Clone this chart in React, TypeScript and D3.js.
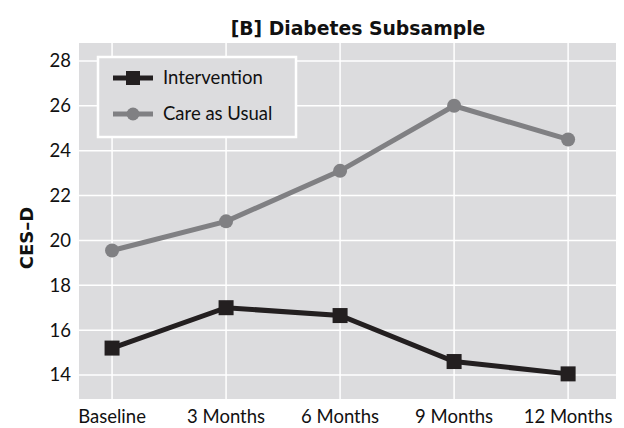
import { useEffect, useRef } from 'react'
import * as d3 from 'd3'

const timepoints = ['Baseline', '3 Months', '6 Months', '9 Months', '12 Months']
const intervention = [15.2, 17.0, 16.65, 14.6, 14.05]
const careAsUsual = [19.55, 20.85, 23.1, 26.0, 24.5]
const yTicks = [14, 16, 18, 20, 22, 24, 26, 28]

const W = 624
const H = 428
const FONT = 'Lato, "Open Sans", sans-serif'
const BOLD_FONT = '"DejaVu Sans", sans-serif'

export default function App() {
  const svgRef = useRef<SVGSVGElement>(null)

  useEffect(() => {
    if (!svgRef.current) return
    const svg = d3.select(svgRef.current)
    svg.selectAll('*').remove()

    const left = 79, right = 616, top = 43, bottom = 399

    const x = d3.scaleLinear().domain([-0.29, 4.42]).range([left, right])
    const y = d3.scaleLinear().domain([12.93, 28.8]).range([bottom, top])

    // plot background
    svg.append('rect')
      .attr('x', left).attr('y', top)
      .attr('width', right - left).attr('height', bottom - top)
      .attr('fill', '#dcdcde')

    // grid
    svg.append('g').selectAll('line')
      .data(yTicks)
      .join('line')
      .attr('x1', left).attr('x2', right)
      .attr('y1', (d) => y(d)).attr('y2', (d) => y(d))
      .attr('stroke', '#fff').attr('stroke-width', 1.5)
    svg.append('g').selectAll('line')
      .data(timepoints)
      .join('line')
      .attr('x1', (_, i) => x(i)).attr('x2', (_, i) => x(i))
      .attr('y1', top).attr('y2', bottom)
      .attr('stroke', '#fff').attr('stroke-width', 1.5)

    // y tick labels
    svg.append('g').selectAll('text')
      .data(yTicks)
      .join('text')
      .attr('x', 71).attr('y', (d) => y(d))
      .attr('dy', '0.35em')
      .attr('text-anchor', 'end')
      .attr('font-family', FONT).attr('font-size', 18.5)
      .attr('fill', '#111')
      .text((d) => d)

    // x tick labels
    svg.append('g').selectAll('text')
      .data(timepoints)
      .join('text')
      .attr('x', (_, i) => x(i)).attr('y', 423)
      .attr('text-anchor', 'middle')
      .attr('font-family', FONT).attr('font-size', 18.5)
      .attr('fill', '#111')
      .text((d) => d)

    // title
    svg.append('text')
      .attr('x', 358).attr('y', 35)
      .attr('text-anchor', 'middle')
      .attr('font-family', BOLD_FONT).attr('font-size', 18.8).attr('font-weight', 'bold')
      .attr('fill', '#111')
      .text('[B] Diabetes Subsample')

    // y axis label
    svg.append('text')
      .attr('transform', 'translate(33,238) rotate(-90)')
      .attr('text-anchor', 'middle')
      .attr('font-family', BOLD_FONT).attr('font-size', 18).attr('font-weight', 'bold')
      .attr('fill', '#111')
      .text('CES–D')

    const line = d3.line<number>()
      .x((_, i) => x(i))
      .y((d) => y(d))

    // care as usual
    svg.append('path')
      .datum(careAsUsual)
      .attr('d', line)
      .attr('fill', 'none')
      .attr('stroke', '#808083').attr('stroke-width', 5)
    svg.append('g').selectAll('circle')
      .data(careAsUsual)
      .join('circle')
      .attr('cx', (_, i) => x(i)).attr('cy', (d) => y(d))
      .attr('r', 7)
      .attr('fill', '#808083')

    // intervention
    svg.append('path')
      .datum(intervention)
      .attr('d', line)
      .attr('fill', 'none')
      .attr('stroke', '#231f20').attr('stroke-width', 5)
    svg.append('g').selectAll('rect')
      .data(intervention)
      .join('rect')
      .attr('x', (_, i) => x(i) - 7.5).attr('y', (d) => y(d) - 7.5)
      .attr('width', 15).attr('height', 15)
      .attr('fill', '#231f20')

    // legend
    const lg = svg.append('g')
    lg.append('rect')
      .attr('x', 98).attr('y', 57)
      .attr('width', 198).attr('height', 80)
      .attr('fill', '#dcdcde')
      .attr('stroke', '#fff').attr('stroke-width', 2.5)
    const items = [
      { name: 'Intervention', color: '#231f20', shape: 'square' },
      { name: 'Care as Usual', color: '#808083', shape: 'circle' },
    ]
    items.forEach((it, i) => {
      const cy = 78 + i * 36
      lg.append('line')
        .attr('x1', 113).attr('x2', 153)
        .attr('y1', cy).attr('y2', cy)
        .attr('stroke', it.color).attr('stroke-width', 5)
      if (it.shape === 'square') {
        lg.append('rect')
          .attr('x', 126).attr('y', cy - 7)
          .attr('width', 14).attr('height', 14)
          .attr('fill', it.color)
      } else {
        lg.append('circle')
          .attr('cx', 133).attr('cy', cy).attr('r', 6.5)
          .attr('fill', it.color)
      }
      lg.append('text')
        .attr('x', 163).attr('y', cy)
        .attr('dy', '0.35em')
        .attr('font-family', FONT).attr('font-size', 18.5)
        .attr('fill', '#111')
        .text(it.name)
    })
  }, [])

  return (
    <svg
      ref={svgRef}
      width={W}
      height={H}
      style={{ position: 'absolute', left: 0, top: 0, background: '#fff' }}
    />
  )
}
